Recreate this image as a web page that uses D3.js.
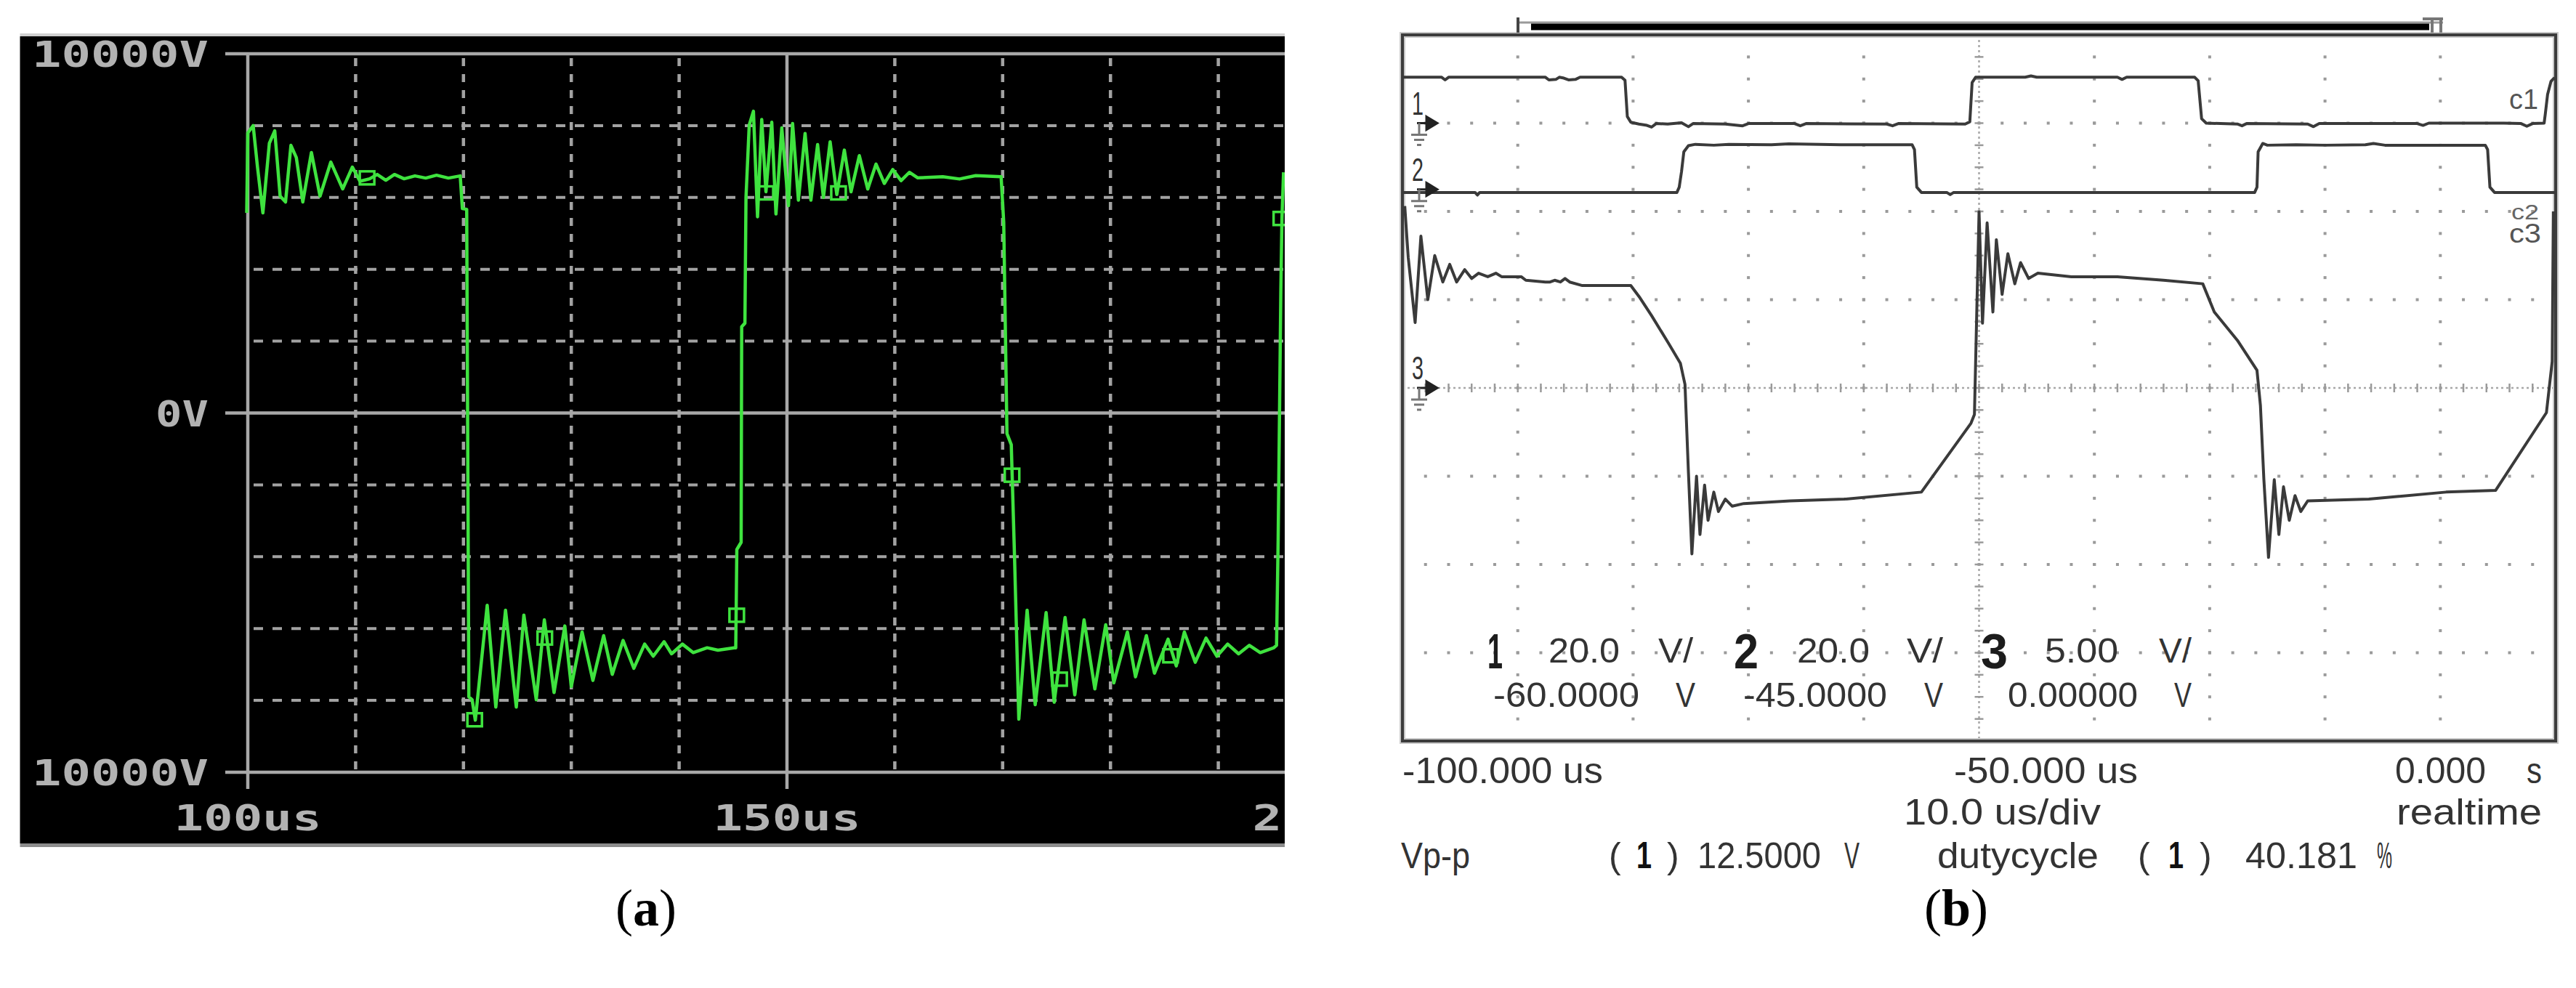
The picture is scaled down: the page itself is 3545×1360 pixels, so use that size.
<!DOCTYPE html>
<html><head><meta charset="utf-8">
<script src="https://cdn.jsdelivr.net/npm/d3@7"></script>
<style>
html,body{margin:0;padding:0;background:#fff;}
svg{display:block;}
</style></head><body>
<svg id="chart" width="3545" height="1360"></svg>
<script>
// ================= DATA =================
// Panel (a): simulated waveform, time in us, voltage in V
const aTimeTicks = [100,110,120,130,140,150,160,170,180,190,200];
const aVoltTicks = [-10000,-8000,-6000,-4000,-2000,0,2000,4000,6000,8000,10000];
const aTimeLabels = [[100,"100us"],[150,"150us"],[200,"200us"]];
const aVoltLabels = [[10000,"10000V"],[0,"0V"],[-10000,"10000V"]];
const aTrace = [
 [99.9,5570],[100.0,7795],[100.5,8000],[100.9,6845],[101.4,5570],[102.0,7510],[102.5,7855],[103.0,6036],
 [103.5,5874],[104.0,7450],[104.5,7110],[105.1,5874],[105.9,7250],[106.7,6036],[107.7,6986],[108.8,6238],
 [109.7,6845],[110.4,6450],[111.3,6520],[112.0,6640],[112.8,6480],[113.6,6640],[114.5,6520],[115.5,6600],
 [116.5,6540],[117.5,6620],[118.6,6540],[119.7,6600],
 [119.9,5690],[120.3,5670],[120.5,-7900],[120.8,-7980],[121.1,-8550],
 [122.2,-5354],[123.0,-8185],[123.9,-5490],[124.9,-8185],[125.6,-5625],[126.75,-7983],[127.5,-5760],
 [128.4,-7781],[129.4,-5928],[130.0,-7613],[131.0,-6096],[132.0,-7444],[133.0,-6197],[133.8,-7276],
 [134.8,-6332],[135.8,-7107],[136.8,-6433],[137.6,-6770],[138.6,-6366],[139.3,-6703],[140.3,-6433],
 [141.3,-6669],[142.6,-6535],[143.6,-6602],[145.1,-6535],
 [145.25,-6535],[145.35,-3800],[145.75,-3600],[145.8,2400],[146.1,2500],[146.2,6000],
 [146.5,8014],[146.89,8401],[147.27,5462],[147.66,8169],[148.05,6158],[148.59,8092],[148.98,5539],
 [149.52,7937],[150.14,5771],[150.52,8061],[151.06,5926],[151.68,7782],[152.22,5926],[152.84,7473],
 [153.38,6003],[154.0,7550],[154.62,6081],[155.32,7318],[155.94,6158],[156.71,7163],[157.49,6235],
 [158.26,6931],[159.03,6390],[159.81,6777],[160.58,6467],[161.35,6699],[162.13,6545],[164.45,6576],
 [166.0,6514],[167.5,6607],[169.86,6576],
 [170.1,5307],[170.4,-572],[170.8,-881],[171.1,-3975],[171.5,-8522],
 [172.27,-5489],[173.02,-8118],[174.03,-5557],[174.78,-8051],[175.79,-5692],[176.69,-7848],[177.55,-5759],
 [178.55,-7680],[179.56,-5894],[180.31,-7511],[181.57,-6096],[182.32,-7343],[183.33,-6197],[184.08,-7242],
 [185.34,-6298],[186.1,-7040],[186.85,-6096],[187.86,-6938],[188.86,-6265],[189.87,-6770],[190.87,-6433],
 [191.88,-6703],[192.88,-6467],[193.89,-6669],[195.15,-6534],[195.4,-6467],
 [195.55,-3511],[195.8,3451],[195.9,5415],[196.05,6700]
];
const aMarkers = [[111.06,6545],[121.04,-8539],[127.54,-6264],[145.34,-5630],[148.05,6127],
 [154.78,6127],[170.87,-1732],[175.28,-7409],[185.57,-6759],[195.8,5415]];

// Panel (b): oscilloscope capture, time in us, voltages in V
const bTimeTicks = [-100,-90,-80,-70,-60,-50,-40,-30,-20,-10,0];
const bDivTicks = [-4,-3,-2,-1,0,1,2,3,4];
const chScale = [20.0, 20.0, 5.00];      // V/div
const chOffset = [-60.0, -45.0, 0.0];    // V at screen centre
const ch1Trace = [
 [-100,10.4],[-96.6,10.4],[-96.3,9.8],[-96.0,10.4],[-87.6,10.4],[-87.3,9.8],[-86.7,9.9],[-86.4,10.4],
 [-86.0,10.2],[-85.6,9.8],[-85.0,9.9],[-84.6,10.4],[-81.0,10.4],[-80.7,9.7],[-80.5,1.5],[-80.2,0.2],
 [-79.5,-0.2],[-78.8,-0.5],[-78.4,-0.9],[-78.0,-0.1],[-77.0,-0.2],[-75.8,0.1],[-75.2,-0.8],[-74.8,-0.1],
 [-72.0,-0.2],[-70.5,-0.6],[-70.0,-0.1],[-66.0,-0.1],[-65.5,-0.6],[-65.0,-0.1],[-58.0,-0.2],[-57.5,-0.6],
 [-57.0,-0.1],[-51.2,-0.2],[-50.8,0.3],[-50.6,9.2],[-50.3,10.4],[-46,10.4],[-45.5,10.7],[-45,10.4],
 [-38.0,10.4],[-37.6,9.9],[-37.2,10.4],[-31.3,10.4],[-31.0,9.6],[-30.7,1.0],[-30.3,0.0],[-27.6,-0.2],
 [-27.2,-0.6],[-26.8,-0.1],[-21.5,-0.2],[-21.0,-0.8],[-20.5,-0.1],[-12,-0.1],[-11.5,-0.5],[-11,0.0],
 [-4.5,0.0],[-3.0,-0.1],[-2.5,-0.7],[-2.0,-0.1],[-1.0,0.0],[-0.9,2.0],[-0.7,6.5],[-0.4,9.5],[-0.1,10.3]
];
const ch2Trace = [
 [-100,-0.7],[-93.7,-0.7],[-93.5,-1.3],[-93.3,-0.7],[-76.2,-0.7],[-76.0,0.5],[-75.8,4.0],[-75.6,8.5],
 [-75.2,9.9],[-74.6,10.2],[-73,10.0],[-71.7,10.2],[-68,10.1],[-66.5,10.3],[-62,10.1],[-55.8,10.1],
 [-55.6,9.0],[-55.4,0.5],[-55.0,-0.7],[-52.8,-0.7],[-52.5,-1.2],[-52.2,-0.7],[-26.1,-0.7],[-25.9,0.5],
 [-25.8,8.5],[-25.4,10.4],[-25.0,10.0],[-22.5,10.1],[-20,10.0],[-16.5,10.1],[-15.8,10.4],[-14.8,10.0],
 [-9.5,10.0],[-6.1,10.0],[-5.9,9.0],[-5.7,0.5],[-5.3,-0.7],[0,-0.7]
];
const ch3Trace = [
 [-99.8,10.3],[-99.5,7.4],[-98.9,3.7],[-98.4,8.6],[-97.8,5.0],[-97.2,7.5],[-96.5,6.0],[-95.9,7.0],
 [-95.3,6.0],[-94.6,6.7],[-94.0,6.2],[-93.4,6.5],[-92.6,6.3],[-91.9,6.5],[-91.4,6.3],[-89.7,6.3],
 [-89.3,6.1],[-87.6,6.0],[-87.2,6.0],[-86.8,6.1],[-86.3,6.0],[-85.9,6.2],[-85.5,6.0],[-84.4,5.8],
 [-80.2,5.8],[-79.4,5.1],[-78.4,4.1],[-76.9,2.5],[-75.9,1.4],[-75.7,0.8],[-75.5,0.2],[-75.2,-4.8],
 [-74.9,-9.4],[-74.5,-5.0],[-74.2,-8.3],[-73.8,-5.5],[-73.5,-7.5],[-73.0,-5.9],[-72.6,-7.0],[-72.0,-6.3],
 [-71.4,-6.7],[-70.4,-6.55],[-66.4,-6.4],[-61.7,-6.3],[-55.0,-5.9],[-50.7,-2.0],[-50.4,-1.5],[-50.0,9.97],
 [-49.7,3.67],[-49.3,9.35],[-48.8,4.3],[-48.5,8.4],[-48.0,5.3],[-47.5,7.6],[-46.9,5.9],[-46.4,7.1],
 [-45.7,6.2],[-44.9,6.5],[-42,6.3],[-38,6.3],[-34,6.1],[-30.6,5.9],[-29.6,4.3],[-27.6,2.7],[-25.9,1.0],
 [-25.6,-1.0],[-25.3,-5.2],[-24.9,-9.6],[-24.4,-5.2],[-24.0,-8.3],[-23.6,-5.6],[-23.1,-7.5],[-22.6,-6.1],
 [-22.1,-7.0],[-21.5,-6.4],[-16.2,-6.3],[-9.5,-5.9],[-5.2,-5.8],[-0.8,-1.4],[-0.3,1.5],[-0.2,10.0]
];
const bTimeLabels = ["-100.000 us","-50.000 us","0.000","s"];
const bSettingText = ["20.0","V/","20.0","V/","5.00","V/","-60.0000","V","-45.0000","V","0.00000","V"];

// ================= DRAW =================
const svg = d3.select("#chart");
const W = 3545, H = 1360;
svg.append("rect").attr("width",W).attr("height",H).attr("fill","#fff");
const defs = svg.append("defs");

function txt(g, s, x, y, opt){
  const t = g.append("text").attr("x",x).attr("y",y).text(s)
    .attr("font-family", opt.family || "Liberation Sans Narrow, Liberation Sans, Arial, sans-serif")
    .attr("font-size", opt.size).attr("fill", opt.fill || "#2c2c2c")
    .attr("font-weight", opt.weight || "normal");
  if (opt.w) t.attr("textLength", opt.w).attr("lengthAdjust","spacingAndGlyphs");
  if (opt.anchor) t.attr("text-anchor", opt.anchor);
  return t;
}

// ---------- Panel (a) ----------
const A = {left:27.5, top:50, right:1768, bottom:1161};
const gA = svg.append("g");
gA.append("rect").attr("x",A.left).attr("y",A.top-4).attr("width",A.right-A.left).attr("height",4).attr("fill","#cfcfcf");
gA.append("rect").attr("x",A.left).attr("y",A.top).attr("width",A.right-A.left).attr("height",A.bottom-A.top).attr("fill","#000");
gA.append("rect").attr("x",A.left).attr("y",A.bottom).attr("width",A.right-A.left).attr("height",5).attr("fill","#8c8c8c");
defs.append("clipPath").attr("id","clipA").append("rect")
  .attr("x",A.left).attr("y",A.top).attr("width",A.right-A.left).attr("height",A.bottom-A.top);
const pA = gA.append("g").attr("clip-path","url(#clipA)");

const xA = d3.scaleLinear().domain([100,200]).range([341,1825]);
const yA = d3.scaleLinear().domain([-10000,10000]).range([1063,74]);
const gridCol = "#a2a2a2";
pA.selectAll(".hd").data(aVoltTicks.filter(v=>Math.abs(v)%10000!==0)).join("line")
  .attr("x1",xA(100)).attr("x2",A.right).attr("y1",d=>yA(d)).attr("y2",d=>yA(d))
  .attr("stroke",gridCol).attr("stroke-width",4).attr("stroke-dasharray","13,13").attr("stroke-dashoffset",-8);
pA.selectAll(".vd").data(aTimeTicks.filter(t=>t%50!==0)).join("line")
  .attr("x1",d=>xA(d)).attr("x2",d=>xA(d)).attr("y1",yA(10000)).attr("y2",yA(-10000))
  .attr("stroke",gridCol).attr("stroke-width",4.5).attr("stroke-dasharray","11,11").attr("stroke-dashoffset",-6);
pA.selectAll(".hs").data(aVoltTicks.filter(v=>Math.abs(v)%10000===0)).join("line")
  .attr("x1",310).attr("x2",A.right).attr("y1",d=>yA(d)).attr("y2",d=>yA(d))
  .attr("stroke","#a8a8a8").attr("stroke-width",4.5);
pA.selectAll(".vs").data(aTimeTicks.filter(t=>t%50===0)).join("line")
  .attr("x1",d=>xA(d)).attr("x2",d=>xA(d)).attr("y1",yA(10000)).attr("y2",1086)
  .attr("stroke","#a8a8a8").attr("stroke-width",4.5);
const pixFont = "DejaVu Sans Mono, Liberation Mono, monospace";
aVoltLabels.forEach(([v,s])=>{
  txt(pA, s, 287, yA(v)+18, {family:pixFont, size:50, weight:"bold", fill:"#b2b2b2", w:s.length*42.5-12, anchor:"end"});
});
aTimeLabels.forEach(([t,s])=>{
  txt(pA, s, xA(t), 1143, {family:pixFont, size:50, weight:"bold", fill:"#b2b2b2", w:s.length*42.6-10, anchor:"middle"});
});
const lineA = d3.line().x(d=>xA(d[0])).y(d=>yA(d[1]));
pA.append("path").datum(aTrace).attr("d",lineA).attr("fill","none")
  .attr("stroke","#3fe33f").attr("stroke-width",4.5).attr("stroke-linejoin","round");
pA.selectAll(".mk").data(aMarkers).join("rect")
  .attr("x",d=>xA(d[0])-10).attr("y",d=>yA(d[1])-9).attr("width",20).attr("height",18)
  .attr("fill","none").attr("stroke","#3fe33f").attr("stroke-width",3.5);

// ---------- Panel (b) ----------
const B = {left:1930, top:48, right:3517, bottom:1020};
const gB = svg.append("g");
const xB = d3.scaleLinear().domain([-100,0]).range([B.left,B.right]);
const yDiv = d3.scaleLinear().domain([-4,4]).range([B.bottom,B.top]);
const divW = (B.right-B.left)/10, divH = (B.bottom-B.top)/8;
const dotCol = "#9a9a9a";
bTimeTicks.slice(1,-1).filter(t=>t!==-50).forEach(t=>{
  const pts = d3.range(1,32).map(j=>B.top + j*divH/4);
  gB.selectAll(null).data(pts).join("rect").attr("x",xB(t)-2).attr("y",d=>d-2).attr("width",4).attr("height",4).attr("fill",dotCol);
});
bDivTicks.slice(1,-1).filter(d=>d!==0).forEach(dv=>{
  const pts = d3.range(1,50).map(i=>B.left + i*divW/5);
  gB.selectAll(null).data(pts).join("rect").attr("x",d=>d-2).attr("y",yDiv(dv)-2).attr("width",4).attr("height",4).attr("fill",dotCol);
});
gB.append("line").attr("x1",xB(-50)).attr("x2",xB(-50)).attr("y1",B.top).attr("y2",B.bottom)
  .attr("stroke","#a8a8a8").attr("stroke-width",2.5).attr("stroke-dasharray","3,4");
gB.append("line").attr("x1",B.left).attr("x2",B.right).attr("y1",yDiv(0)).attr("y2",yDiv(0))
  .attr("stroke","#a8a8a8").attr("stroke-width",2.5).attr("stroke-dasharray","3,4");
gB.selectAll(".ct").data(d3.range(1,50)).join("line")
  .attr("x1",i=>B.left+i*divW/5).attr("x2",i=>B.left+i*divW/5).attr("y1",yDiv(0)-6).attr("y2",yDiv(0)+6)
  .attr("stroke","#9a9a9a").attr("stroke-width",2.5);
gB.selectAll(".cv").data(d3.range(1,32)).join("line")
  .attr("x1",xB(-50)-6).attr("x2",xB(-50)+6).attr("y1",j=>B.top+j*divH/4).attr("y2",j=>B.top+j*divH/4)
  .attr("stroke","#9a9a9a").attr("stroke-width",2.5);
gB.append("rect").attr("x",B.left).attr("y",B.top).attr("width",B.right-B.left).attr("height",B.bottom-B.top)
  .attr("fill","none").attr("stroke","#c8c8c8").attr("stroke-width",8);
gB.append("rect").attr("x",B.left).attr("y",B.top).attr("width",B.right-B.left).attr("height",B.bottom-B.top)
  .attr("fill","none").attr("stroke","#3c3c3c").attr("stroke-width",4);
gB.append("line").attr("x1",2089).attr("x2",3362).attr("y1",31).attr("y2",31).attr("stroke","#9a9a9a").attr("stroke-width",3);
gB.append("line").attr("x1",2107).attr("x2",3343).attr("y1",37).attr("y2",37).attr("stroke","#000").attr("stroke-width",9);
gB.append("line").attr("x1",2089).attr("x2",2089).attr("y1",24).attr("y2",45).attr("stroke","#444").attr("stroke-width",4);
gB.append("path").attr("d","M3334,26 H3362 M3347,26 V45 M3359,26 V45").attr("stroke","#777").attr("stroke-width",4).attr("fill","none");

defs.append("clipPath").attr("id","clipB").append("rect")
  .attr("x",B.left).attr("y",B.top).attr("width",B.right-B.left).attr("height",B.bottom-B.top);
const pB = gB.append("g").attr("clip-path","url(#clipB)");
[ch1Trace, ch2Trace, ch3Trace].forEach((tr,k)=>{
  const ln = d3.line().x(d=>xB(d[0])).y(d=>yDiv((d[1]-chOffset[k])/chScale[k]));
  pB.append("path").datum(tr).attr("d",ln).attr("fill","none")
    .attr("stroke","#3a3a3a").attr("stroke-width",4).attr("stroke-linejoin","round");
});

[0,1,2].forEach(k=>{
  const y0 = yDiv((0-chOffset[k])/chScale[k]);
  const g = gB.append("g");
  txt(g, String(k+1), 1951, y0-12, {size:44, fill:"#333", w:16, anchor:"middle"});
  g.append("path").attr("d",`M1950,${y0} H1966 M1963,${y0-9} L1978,${y0} L1963,${y0+9} Z`)
    .attr("stroke","#222").attr("stroke-width",3).attr("fill","#222");
  g.append("path").attr("d",`M1953,${y0} V${y0+16} M1942,${y0+16} H1964 M1946,${y0+23} H1960 M1950,${y0+30} H1956`)
    .attr("stroke","#777").attr("stroke-width",3).attr("fill","none");
});
txt(gB, "c1", 3453, 150, {size:38, fill:"#555", w:40});
txt(gB, "c2", 3456, 302, {size:30, fill:"#666", w:38});
txt(gB, "c3", 3453, 334, {size:36, fill:"#555", w:44});

const big = {size:68, weight:"bold", fill:"#1c1c1c"};
txt(gB, "1", 2047, 920, Object.assign({w:21}, big));
txt(gB, "2", 2386, 920, Object.assign({w:34}, big));
txt(gB, "3", 2726, 920, Object.assign({w:37}, big));
const setPos = [[2131,912,98],[2282,912,48],[2473,912,100],[2624,912,50],[2814,912,101],[2971,912,45],
                [2055,973,201],[2306,973,27],[2399,973,198],[2648,973,26],[2763,973,179],[2992,973,24]];
bSettingText.forEach((s,i)=>{
  const p = setPos[i];
  txt(gB, s, p[0], p[1], {size:48, w:p[2], fill:"#333"});
});
txt(gB, bTimeLabels[0], 1930, 1078, {size:50, w:276, fill:"#333"});
txt(gB, bTimeLabels[1], 2689, 1078, {size:50, w:253, fill:"#333"});
txt(gB, bTimeLabels[2], 3296, 1078, {size:50, w:125, fill:"#333"});
txt(gB, bTimeLabels[3], 3477, 1078, {size:50, w:21, fill:"#333"});
txt(gB, "10.0 us/div", 2620, 1135, {size:50, w:271, fill:"#333"});
txt(gB, "realtime", 3298, 1135, {size:50, w:200, fill:"#333"});
txt(gB, "Vp-p", 1928, 1195, {size:50, w:95, fill:"#333"});
txt(gB, "(", 2214, 1195, {size:50, fill:"#333"});
txt(gB, "1", 2252, 1195, {size:52, weight:"bold", w:21, fill:"#111"});
txt(gB, ")", 2294, 1195, {size:50, fill:"#333"});
txt(gB, "12.5000", 2336, 1195, {size:50, w:170, fill:"#333"});
txt(gB, "V", 2538, 1195, {size:50, w:21, fill:"#333"});
txt(gB, "dutycycle", 2666, 1195, {size:50, w:222, fill:"#333"});
txt(gB, "(", 2942, 1195, {size:50, fill:"#333"});
txt(gB, "1", 2984, 1195, {size:52, weight:"bold", w:21, fill:"#111"});
txt(gB, ")", 3027, 1195, {size:50, fill:"#333"});
txt(gB, "40.181", 3090, 1195, {size:50, w:154, fill:"#333"});
txt(gB, "%", 3271, 1195, {size:50, w:21, fill:"#333"});

// ---------- panel captions ----------
[["a",889],["b",2692]].forEach(([c,x])=>{
  const t = svg.append("text").attr("x",x).attr("y",1274).attr("text-anchor","middle")
    .attr("font-family","Liberation Serif, Times New Roman, serif").attr("font-size",72).attr("fill","#000");
  t.append("tspan").text("(");
  t.append("tspan").attr("font-weight","bold").text(c);
  t.append("tspan").text(")");
});
</script>
</body></html>
